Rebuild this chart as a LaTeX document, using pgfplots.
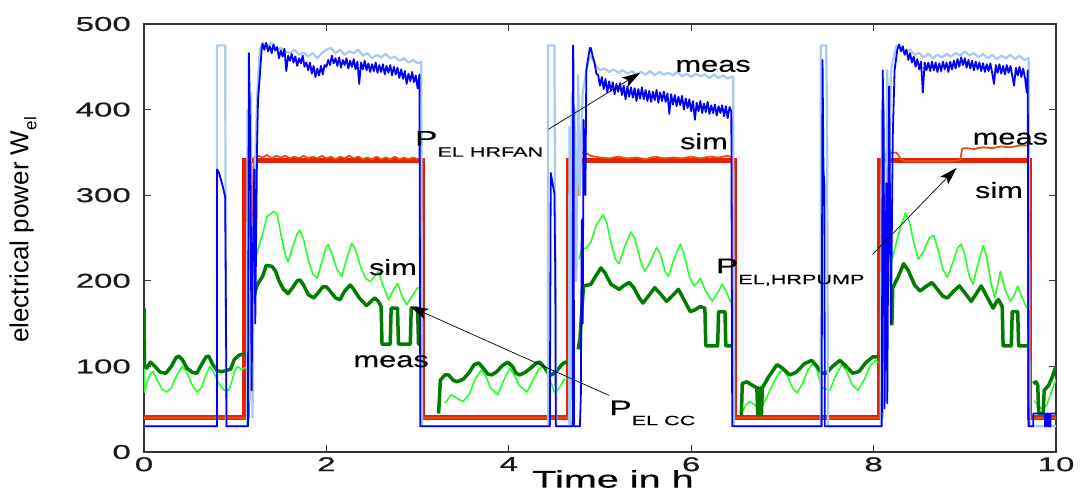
\documentclass[border=0pt]{standalone}
\usepackage{pgfplots}
\pgfplotsset{compat=1.18}
\usepackage{fontspec}
\usetikzlibrary{arrows.meta}
\setmainfont{Liberation Sans}
\newfontfamily\tickfont{Liberation Sans}[FakeStretch=1.65, FakeBold=0.6]
\newfontfamily\annfont{Liberation Sans}[FakeStretch=1.4, FakeBold=0.3]
\newfontfamily\pfont{Liberation Sans}[FakeStretch=1.6, FakeBold=0.3]
\newfontfamily\plainfont{Liberation Sans}
\definecolor{simred}{RGB}{228,32,0}
\definecolor{measor}{RGB}{232,80,10}
\definecolor{lblue}{RGB}{166,202,240}
\definecolor{dblue}{RGB}{0,0,255}
\definecolor{lgreen}{RGB}{40,255,40}
\definecolor{dgreen}{RGB}{0,125,0}
\begin{document}
\begin{tikzpicture}
\begin{axis}[
  scale only axis, width=912pt, height=428pt,
  at={(0pt,0pt)}, anchor=south west,
  xmin=0, xmax=10, ymin=0, ymax=500,
  xtick={0,2,4,6,8,10}, ytick={0,100,200,300,400,500},
  tick align=inside, major tick length=7pt,
  axis line style={line width=1.2pt, black!80},
  tick style={line width=1pt, black!80},
  /pgf/number format/assume math mode=true,
  ticklabel style={font=\tickfont\fontsize{20}{22}\selectfont, text=black!90},
  xticklabel style={inner sep=0pt, anchor=north, yshift=-5pt},
  yticklabel style={inner sep=0pt, anchor=east, xshift=-13pt},
  unbounded coords=jump,
  every axis plot/.append style={line join=round, mark=none},
]
% simulated pump power (thick red)
\addplot[simred, line width=5pt, line join=miter] table[row sep=\\] {
x y \\ 0 40 \\ 1.1 40 \\ 1.1 340 \\ 3.05 340 \\ 3.05 40 \\ 4.65 40 \\ 4.65 340 \\ 6.47 340 \\ 6.47 40 \\ 8.06 40 \\ 8.06 340 \\ 9.71 340 \\ 9.71 40 \\ 10 40 \\
};
% measured pump power (thin orange)
\addplot[measor, line width=1.8pt] table[row sep=\\] {
x y \\ 0 40 \\ 1.15 40 \\ 1.16 250 \\ 1.17 330 \\ 1.18 260 \\ 1.19 300 \\ 1.2 335 \\ 1.21 345 \\
1.25 346 \\ 1.3 344 \\ 1.35 347 \\ 1.4 343 \\ 1.45 346 \\ 1.5 344 \\ 1.55 346 \\ 1.6 343 \\ 1.65 345 \\ 1.7 343 \\ 1.75 346 \\ 1.8 343 \\ 1.85 345 \\ 1.9 343 \\ 1.95 346 \\ 2.0 343 \\ 2.05 345 \\ 2.1 342 \\ 2.15 345 \\ 2.2 343 \\ 2.25 346 \\ 2.3 343 \\ 2.35 345 \\ 2.4 342 \\ 2.45 344 \\ 2.5 342 \\ 2.55 345 \\ 2.6 342 \\ 2.65 344 \\ 2.7 342 \\ 2.75 345 \\ 2.8 342 \\ 2.85 344 \\ 2.9 342 \\ 2.95 344 \\ 3.0 342 \\ 3.04 343 \\ 3.05 40 \\
4.66 40 \\ 4.67 320 \\ 4.68 200 \\ 4.69 330 \\ 4.7 345 \\ 4.74 348 \\ 4.76 300 \\ 4.78 345 \\ 4.8 350 \\ 4.85 349 \\ 4.9 346 \\ 4.95 345 \\
5.0 344 \\ 5.1 343 \\ 5.2 345 \\ 5.3 343 \\ 5.4 344 \\ 5.5 342 \\ 5.6 345 \\ 5.7 343 \\ 5.8 344 \\ 5.9 343 \\ 6.0 345 \\ 6.1 343 \\ 6.2 345 \\ 6.3 344 \\ 6.4 346 \\ 6.45 344 \\ 6.46 40 \\
8.07 40 \\ 8.08 330 \\ 8.1 300 \\ 8.12 345 \\ 8.15 350 \\ 8.2 349 \\ 8.25 350 \\ 8.3 342 \\ 8.35 340 \\ 8.9 340 \\ 8.95 341 \\ 8.97 354 \\ 9.0 355 \\ 9.1 354 \\ 9.2 356 \\ 9.3 355 \\ 9.4 357 \\ 9.5 356 \\ 9.6 358 \\ 9.7 358 \\ 9.71 40 \\ 10 40 \\
};
% simulated CC power (light green)
\addplot[lgreen, line width=1.6pt] table[row sep=\\] {
x y \\ 0 110 \\ 0.005 70 \\ 0.03 80 \\ 0.07 92 \\ 0.1 94 \\ 0.14 85 \\ 0.2 73 \\ 0.25 70 \\ 0.3 75 \\ 0.36 90 \\ 0.42 100 \\ 0.46 95 \\ 0.52 80 \\ 0.58 70 \\ 0.63 75 \\ 0.68 90 \\ 0.72 100 \\ 0.76 94 \\ 0.82 80 \\ 0.88 72 \\ 0.93 72 \\ 0.97 85 \\ 1.0 96 \\ 1.03 100 \\ 1.07 96 \\ 1.1 98 \\ 1.17 100 \\
1.19 160 \\ 1.22 225 \\ 1.25 236 \\ 1.3 255 \\ 1.35 275 \\ 1.42 281 \\ 1.46 278 \\ 1.5 255 \\ 1.55 230 \\ 1.58 222 \\ 1.63 240 \\ 1.68 255 \\ 1.71 259 \\ 1.75 248 \\ 1.8 225 \\ 1.85 208 \\ 1.9 203 \\ 1.95 222 \\ 2.0 240 \\ 2.02 242 \\ 2.06 232 \\ 2.11 215 \\ 2.17 205 \\ 2.22 225 \\ 2.28 244 \\ 2.32 236 \\ 2.38 215 \\ 2.43 203 \\ 2.48 199 \\ 2.53 205 \\ 2.57 211 \\ 2.62 195 \\ 2.68 178 \\ 2.73 188 \\ 2.78 197 \\ 2.83 182 \\ 2.88 172 \\ 2.94 182 \\ 3.0 192 \\ 3.03 190 \\ 3.04 nan \\
3.3 57 \\ 3.37 67 \\ 3.44 62 \\ 3.5 59 \\ 3.57 68 \\ 3.63 85 \\ 3.7 96 \\ 3.75 88 \\ 3.8 75 \\ 3.88 67 \\ 3.95 85 \\ 4.01 98 \\ 4.06 90 \\ 4.12 77 \\ 4.2 70 \\ 4.27 85 \\ 4.33 97 \\ 4.38 100 \\ 4.43 90 \\ 4.5 70 \\ 4.55 74 \\ 4.6 84 \\ 4.64 86 \\ 4.65 nan \\
4.77 225 \\ 4.8 238 \\ 4.85 238 \\ 4.9 245 \\ 4.96 265 \\ 5.03 277 \\ 5.07 270 \\ 5.12 245 \\ 5.17 225 \\ 5.21 220 \\ 5.27 240 \\ 5.34 257 \\ 5.38 250 \\ 5.44 225 \\ 5.49 211 \\ 5.55 222 \\ 5.62 239 \\ 5.66 232 \\ 5.71 212 \\ 5.75 205 \\ 5.81 225 \\ 5.88 243 \\ 5.92 232 \\ 5.98 205 \\ 6.03 194 \\ 6.07 198 \\ 6.1 203 \\ 6.15 190 \\ 6.23 176 \\ 6.29 186 \\ 6.34 196 \\ 6.38 188 \\ 6.44 174 \\ 6.45 nan \\
6.55 45 \\ 6.6 55 \\ 6.64 59 \\ 6.7 55 \\ 6.75 51 \\ 6.8 58 \\ 6.9 80 \\ 6.96 92 \\ 7.01 96 \\ 7.06 88 \\ 7.11 75 \\ 7.16 69 \\ 7.22 80 \\ 7.28 96 \\ 7.34 104 \\ 7.38 96 \\ 7.43 75 \\ 7.52 72 \\ 7.58 88 \\ 7.65 102 \\ 7.7 95 \\ 7.77 78 \\ 7.83 72 \\ 7.9 85 \\ 7.96 100 \\ 8.02 107 \\ 8.05 104 \\ 8.06 nan \\
8.18 200 \\ 8.2 223 \\ 8.25 245 \\ 8.3 265 \\ 8.35 279 \\ 8.39 270 \\ 8.44 245 \\ 8.49 225 \\ 8.55 235 \\ 8.61 250 \\ 8.66 253 \\ 8.71 235 \\ 8.76 213 \\ 8.81 204 \\ 8.87 222 \\ 8.92 238 \\ 8.96 243 \\ 9.0 230 \\ 9.05 205 \\ 9.09 196 \\ 9.14 218 \\ 9.2 241 \\ 9.24 228 \\ 9.29 196 \\ 9.33 180 \\ 9.36 195 \\ 9.39 211 \\ 9.44 190 \\ 9.5 176 \\ 9.55 185 \\ 9.58 194 \\ 9.63 180 \\ 9.68 168 \\ 9.69 nan \\
9.76 60 \\ 9.8 55 \\ 9.85 50 \\ 9.9 55 \\ 9.95 70 \\ 10 85 \\
};
% measured CC power (dark green)
\addplot[dgreen, line width=3.5pt] table[row sep=\\] {
x y \\ 0 168 \\ 0.005 100 \\ 0.03 98 \\ 0.07 105 \\ 0.12 100 \\ 0.18 93 \\ 0.24 92 \\ 0.3 100 \\ 0.35 110 \\ 0.38 112 \\ 0.42 108 \\ 0.47 98 \\ 0.53 93 \\ 0.58 92 \\ 0.63 102 \\ 0.68 111 \\ 0.71 112 \\ 0.75 103 \\ 0.8 95 \\ 0.85 94 \\ 0.9 95 \\ 0.95 97 \\ 0.99 108 \\ 1.04 113 \\ 1.08 114 \\ 1.17 114 \\
1.18 150 \\ 1.19 205 \\ 1.21 182 \\ 1.23 192 \\ 1.25 197 \\ 1.3 205 \\ 1.34 218 \\ 1.4 217 \\ 1.44 212 \\ 1.48 200 \\ 1.53 190 \\ 1.58 185 \\ 1.63 192 \\ 1.68 200 \\ 1.71 201 \\ 1.75 195 \\ 1.8 184 \\ 1.86 180 \\ 1.91 186 \\ 1.96 193 \\ 2.0 193 \\ 2.04 188 \\ 2.1 180 \\ 2.15 178 \\ 2.2 188 \\ 2.26 195 \\ 2.3 190 \\ 2.36 180 \\ 2.44 171 \\ 2.49 176 \\ 2.53 180 \\ 2.57 176 \\ 2.6 170 \\ 2.61 126 \\ 2.7 126 \\ 2.71 168 \\ 2.78 168 \\ 2.79 126 \\ 2.92 126 \\ 2.93 168 \\ 3.0 168 \\ 3.01 126 \\ 3.05 126 \\ 3.06 nan \\
3.23 45 \\ 3.25 84 \\ 3.3 90 \\ 3.34 90 \\ 3.39 84 \\ 3.43 82 \\ 3.5 85 \\ 3.56 92 \\ 3.62 102 \\ 3.67 104 \\ 3.72 98 \\ 3.77 91 \\ 3.81 90 \\ 3.87 94 \\ 3.93 101 \\ 3.99 105 \\ 4.04 100 \\ 4.08 92 \\ 4.12 90 \\ 4.18 93 \\ 4.25 99 \\ 4.3 104 \\ 4.34 105 \\ 4.39 99 \\ 4.44 91 \\ 4.47 90 \\ 4.52 94 \\ 4.58 102 \\ 4.62 105 \\ 4.65 104 \\ 4.66 nan \\
4.76 120 \\ 4.78 132 \\ 4.8 165 \\ 4.82 194 \\ 4.9 196 \\ 4.95 205 \\ 5.01 215 \\ 5.05 210 \\ 5.12 196 \\ 5.21 190 \\ 5.27 195 \\ 5.32 198 \\ 5.37 192 \\ 5.43 180 \\ 5.47 174 \\ 5.53 182 \\ 5.6 192 \\ 5.66 185 \\ 5.73 176 \\ 5.79 182 \\ 5.86 190 \\ 5.92 178 \\ 5.99 164 \\ 6.04 166 \\ 6.1 170 \\ 6.15 168 \\ 6.16 124 \\ 6.29 124 \\ 6.3 164 \\ 6.37 164 \\ 6.38 124 \\ 6.44 124 \\ 6.45 nan \\
6.55 43 \\ 6.56 80 \\ 6.61 82 \\ 6.67 78 \\ 6.72 75 \\ 6.73 43 \\ 6.74 75 \\ 6.75 43 \\ 6.76 75 \\ 6.77 43 \\ 6.78 75 \\ 6.85 88 \\ 6.94 102 \\ 7.0 98 \\ 7.08 90 \\ 7.15 93 \\ 7.24 103 \\ 7.32 107 \\ 7.38 100 \\ 7.43 92 \\ 7.48 92 \\ 7.55 100 \\ 7.63 107 \\ 7.7 100 \\ 7.77 92 \\ 7.84 94 \\ 7.92 105 \\ 7.99 111 \\ 8.05 111 \\ 8.06 nan \\
8.2 148 \\ 8.21 192 \\ 8.27 205 \\ 8.33 220 \\ 8.38 212 \\ 8.45 195 \\ 8.51 188 \\ 8.57 193 \\ 8.64 198 \\ 8.7 190 \\ 8.76 182 \\ 8.81 180 \\ 8.87 187 \\ 8.94 194 \\ 9.0 186 \\ 9.07 176 \\ 9.12 184 \\ 9.18 194 \\ 9.24 182 \\ 9.31 168 \\ 9.35 176 \\ 9.37 178 \\ 9.41 170 \\ 9.42 124 \\ 9.51 124 \\ 9.52 164 \\ 9.58 164 \\ 9.59 124 \\ 9.68 124 \\ 9.69 nan \\
9.75 80 \\ 9.78 82 \\ 9.8 78 \\ 9.81 45 \\ 9.86 45 \\ 9.87 72 \\ 9.92 78 \\ 9.96 88 \\ 10 100 \\
};
% simulated fan power (light blue)
\addplot[lblue, line width=2.2pt] table[row sep=\\] {
x y \\ 0 30 \\ 0.8 30 \\ 0.8 475 \\ 0.89 475 \\ 0.9 30 \\ 1.13 30 \\ 1.135 400 \\ 1.14 30 \\ 1.15 400 \\ 1.16 60 \\ 1.17 420 \\ 1.19 40 \\ 1.21 300 \\ 1.24 415 \\ 1.27 470 \\ 1.3 478 \\
1.35 474 \\ 1.4 478 \\ 1.45 470 \\ 1.5 472 \\ 1.55 468 \\ 1.6 466 \\ 1.65 470 \\ 1.7 464 \\ 1.75 467 \\ 1.8 462 \\ 1.85 466 \\ 1.9 460 \\ 1.95 466 \\ 2.0 470 \\ 2.05 472 \\ 2.1 466 \\ 2.15 470 \\ 2.2 464 \\ 2.25 468 \\ 2.3 466 \\ 2.35 470 \\ 2.4 463 \\ 2.45 466 \\ 2.5 460 \\ 2.55 464 \\ 2.6 461 \\ 2.65 465 \\ 2.7 460 \\ 2.75 462 \\ 2.8 457 \\ 2.85 460 \\ 2.9 455 \\ 2.95 458 \\ 3.0 454 \\ 3.04 456 \\ 3.05 30 \\
4.43 30 \\ 4.43 475 \\ 4.5 475 \\ 4.52 30 \\ 4.66 30 \\ 4.665 380 \\ 4.67 30 \\ 4.69 420 \\ 4.7 60 \\ 4.72 400 \\ 4.74 200 \\ 4.76 440 \\ 4.78 300 \\ 4.81 420 \\ 4.85 445 \\ 4.88 460 \\ 4.9 462 \\ 4.95 452 \\ 5.0 446 \\
5.05 448 \\ 5.1 444 \\ 5.15 447 \\ 5.2 443 \\ 5.25 446 \\ 5.3 442 \\ 5.35 445 \\ 5.4 441 \\ 5.45 444 \\ 5.5 441 \\ 5.55 445 \\ 5.6 440 \\ 5.65 444 \\ 5.7 441 \\ 5.75 443 \\ 5.8 440 \\ 5.85 444 \\ 5.9 439 \\ 5.95 442 \\ 6.0 438 \\ 6.05 442 \\ 6.1 439 \\ 6.15 441 \\ 6.2 437 \\ 6.25 441 \\ 6.3 437 \\ 6.35 440 \\ 6.4 436 \\ 6.45 439 \\ 6.46 438 \\ 6.47 30 \\
7.42 30 \\ 7.42 475 \\ 7.48 475 \\ 7.49 390 \\ 7.5 30 \\ 8.08 30 \\ 8.09 400 \\ 8.1 40 \\ 8.11 407 \\ 8.13 60 \\ 8.15 446 \\ 8.17 300 \\ 8.19 446 \\ 8.22 460 \\ 8.25 475 \\
8.3 472 \\ 8.35 466 \\ 8.4 470 \\ 8.45 464 \\ 8.5 466 \\ 8.55 461 \\ 8.6 465 \\ 8.65 460 \\ 8.7 464 \\ 8.75 461 \\ 8.8 465 \\ 8.85 462 \\ 8.9 466 \\ 8.95 463 \\ 9.0 468 \\ 9.05 463 \\ 9.1 466 \\ 9.15 461 \\ 9.2 465 \\ 9.25 460 \\ 9.3 464 \\ 9.35 459 \\ 9.4 463 \\ 9.45 460 \\ 9.5 464 \\ 9.55 459 \\ 9.6 463 \\ 9.65 458 \\ 9.7 460 \\ 9.71 30 \\ 10 30 \\
};
% measured fan power (dark blue)
\addplot[dblue, line width=1.8pt] table[row sep=\\] {
x y \\ 0 30 \\ 0.8 30 \\ 0.8 330 \\ 0.82 327 \\ 0.86 312 \\ 0.89 298 \\ 0.9 139 \\ 0.905 30 \\ 1.14 30 \\ 1.15 466 \\ 1.16 400 \\ 1.17 300 \\ 1.18 72 \\ 1.19 200 \\ 1.21 330 \\ 1.22 150 \\ 1.24 357 \\ 1.25 411 \\ 1.27 440 \\ 1.29 470 \\
1.30 477 \\ 1.32 470 \\ 1.34 478 \\ 1.36 468 \\ 1.38 474 \\ 1.40 466 \\ 1.42 476 \\ 1.44 469 \\ 1.46 473 \\ 1.48 460 \\ 1.50 469 \\ 1.52 462 \\ 1.54 471 \\ 1.56 445 \\ 1.58 463 \\ 1.60 457 \\ 1.62 465 \\ 1.64 455 \\ 1.66 462 \\ 1.68 451 \\ 1.70 460 \\ 1.72 454 \\ 1.74 463 \\ 1.76 450 \\ 1.78 455 \\ 1.80 446 \\ 1.82 455 \\ 1.84 442 \\ 1.86 451 \\ 1.88 438 \\ 1.90 448 \\ 1.92 440 \\ 1.94 451 \\ 1.96 441 \\ 1.98 452 \\ 2.00 450 \\ 2.02 458 \\ 2.04 452 \\ 2.06 463 \\ 2.08 454 \\ 2.10 460 \\ 2.12 451 \\ 2.14 461 \\ 2.16 449 \\ 2.18 458 \\ 2.20 452 \\ 2.22 460 \\ 2.24 448 \\ 2.26 457 \\ 2.28 450 \\ 2.30 459 \\ 2.32 447 \\ 2.34 456 \\ 2.36 430 \\ 2.38 455 \\ 2.40 447 \\ 2.42 457 \\ 2.44 446 \\ 2.46 454 \\ 2.48 444 \\ 2.50 453 \\ 2.52 445 \\ 2.54 455 \\ 2.56 443 \\ 2.58 452 \\ 2.60 444 \\ 2.62 453 \\ 2.64 441 \\ 2.66 451 \\ 2.68 443 \\ 2.70 452 \\ 2.72 440 \\ 2.74 450 \\ 2.76 441 \\ 2.78 449 \\ 2.80 437 \\ 2.82 447 \\ 2.84 436 \\ 2.86 445 \\ 2.88 430 \\ 2.90 442 \\ 2.92 433 \\ 2.94 444 \\ 2.96 432 \\ 2.98 440 \\ 3.00 425 \\ 3.02 441 \\ 3.03 30 \\
4.45 30 \\ 4.46 326 \\ 4.5 302 \\ 4.51 205 \\ 4.515 30 \\ 4.70 30 \\ 4.705 475 \\ 4.71 446 \\ 4.715 30 \\ 4.78 30 \\ 4.79 67 \\ 4.80 271 \\ 4.81 150 \\ 4.82 388 \\ 4.84 300 \\ 4.85 446 \\ 4.87 460 \\ 4.89 472 \\
4.90 472 \\ 4.92 462 \\ 4.94 455 \\ 4.96 442 \\ 4.98 440 \\ 5.00 428 \\ 5.02 438 \\ 5.04 424 \\ 5.06 436 \\ 5.08 420 \\ 5.10 433 \\ 5.12 422 \\ 5.14 432 \\ 5.16 418 \\ 5.18 430 \\ 5.20 421 \\ 5.22 431 \\ 5.24 417 \\ 5.26 428 \\ 5.28 412 \\ 5.30 427 \\ 5.32 415 \\ 5.34 426 \\ 5.36 414 \\ 5.38 425 \\ 5.40 410 \\ 5.42 424 \\ 5.44 413 \\ 5.46 426 \\ 5.48 412 \\ 5.50 423 \\ 5.52 410 \\ 5.54 422 \\ 5.56 409 \\ 5.58 421 \\ 5.60 411 \\ 5.62 423 \\ 5.64 408 \\ 5.66 420 \\ 5.68 410 \\ 5.70 421 \\ 5.72 409 \\ 5.74 419 \\ 5.76 395 \\ 5.78 418 \\ 5.80 406 \\ 5.82 417 \\ 5.84 404 \\ 5.86 415 \\ 5.88 405 \\ 5.90 416 \\ 5.92 400 \\ 5.94 413 \\ 5.96 402 \\ 5.98 412 \\ 6.00 398 \\ 6.02 410 \\ 6.04 388 \\ 6.06 408 \\ 6.08 398 \\ 6.10 410 \\ 6.12 396 \\ 6.14 407 \\ 6.16 397 \\ 6.18 409 \\ 6.20 395 \\ 6.22 405 \\ 6.24 396 \\ 6.26 406 \\ 6.28 393 \\ 6.30 404 \\ 6.32 396 \\ 6.34 405 \\ 6.36 392 \\ 6.38 404 \\ 6.40 390 \\ 6.42 403 \\ 6.44 398 \\ 6.45 30 \\
7.43 30 \\ 7.44 458 \\ 7.45 330 \\ 7.46 313 \\ 7.465 30 \\ 8.09 30 \\ 8.10 446 \\ 8.11 376 \\ 8.12 51 \\ 8.14 314 \\ 8.15 57 \\ 8.17 427 \\ 8.19 150 \\ 8.21 368 \\ 8.23 446 \\ 8.26 470 \\ 8.28 476 \\
8.30 468 \\ 8.32 474 \\ 8.34 464 \\ 8.36 470 \\ 8.38 458 \\ 8.40 466 \\ 8.42 455 \\ 8.44 462 \\ 8.46 450 \\ 8.48 459 \\ 8.50 447 \\ 8.52 456 \\ 8.54 420 \\ 8.56 455 \\ 8.58 446 \\ 8.60 455 \\ 8.62 445 \\ 8.64 456 \\ 8.66 446 \\ 8.68 455 \\ 8.70 444 \\ 8.72 454 \\ 8.74 445 \\ 8.76 456 \\ 8.78 447 \\ 8.80 455 \\ 8.82 444 \\ 8.84 456 \\ 8.86 447 \\ 8.88 457 \\ 8.90 448 \\ 8.92 459 \\ 8.94 450 \\ 8.96 461 \\ 8.98 452 \\ 9.00 460 \\ 9.02 449 \\ 9.04 458 \\ 9.06 448 \\ 9.08 457 \\ 9.10 446 \\ 9.12 456 \\ 9.14 447 \\ 9.16 455 \\ 9.18 445 \\ 9.20 454 \\ 9.22 444 \\ 9.24 453 \\ 9.26 445 \\ 9.28 454 \\ 9.30 443 \\ 9.32 430 \\ 9.34 452 \\ 9.36 443 \\ 9.38 453 \\ 9.40 442 \\ 9.42 451 \\ 9.44 441 \\ 9.46 452 \\ 9.48 443 \\ 9.50 451 \\ 9.52 440 \\ 9.54 428 \\ 9.56 449 \\ 9.58 440 \\ 9.60 450 \\ 9.62 438 \\ 9.64 448 \\ 9.66 437 \\ 9.68 420 \\ 9.69 446 \\ 9.70 30 \\
9.75 30 \\ 9.75 45 \\ 9.88 45 \\ 9.88 30 \\ 9.9 30 \\ 9.9 45 \\ 9.92 45 \\ 9.92 30 \\ 9.94 30 \\ 9.94 45 \\ 10 45 \\
};
% annotations
\node[font=\annfont\fontsize{22}{24}\selectfont, inner sep=0pt] at (axis cs:6.24,451) {meas};
\node[font=\annfont\fontsize{22}{24}\selectfont, inner sep=0pt] at (axis cs:6.14,363) {sim};
\node[font=\annfont\fontsize{22}{24}\selectfont, inner sep=0pt] at (axis cs:9.50,366) {meas};
\node[font=\annfont\fontsize{22}{24}\selectfont, inner sep=0pt] at (axis cs:9.375,306) {sim};
\node[font=\annfont\fontsize{22}{24}\selectfont, inner sep=0pt] at (axis cs:2.73,216) {sim};
\node[font=\annfont\fontsize{22}{24}\selectfont, inner sep=0pt] at (axis cs:2.71,106) {meas};
\node[anchor=base west, inner sep=0pt] at (axis cs:2.97,358) {\pfont\fontsize{21}{24}\selectfont P\raisebox{-11pt}{\fontsize{13.5}{15}\selectfont EL HRFAN}};
\node[anchor=base west, inner sep=0pt] at (axis cs:6.27,209) {\pfont\fontsize{21}{24}\selectfont P\raisebox{-11pt}{\fontsize{13.5}{15}\selectfont EL,HRPUMP}};
\node[anchor=base west, inner sep=0pt] at (axis cs:5.10,43) {\pfont\fontsize{21}{24}\selectfont P\raisebox{-10pt}{\fontsize{13.5}{15}\selectfont EL CC}};
\draw[black, line width=0.7pt, -{Stealth[length=18pt, width=11pt, inset=4pt]}] (axis cs:4.435,377) -- (axis cs:5.44,443);
\draw[black, line width=0.7pt, -{Stealth[length=18pt, width=11pt, inset=4pt]}] (axis cs:7.99,231) -- (axis cs:8.91,332);
\draw[black, line width=0.7pt, -{Stealth[length=18pt, width=11pt, inset=4pt]}] (axis cs:5.10,66) -- (axis cs:2.917,170);
\end{axis}
\node[rotate=90, inner sep=0pt, font=\plainfont] at (-121pt,222pt) {\fontsize{26}{28}\selectfont electrical power W\raisebox{-8pt}{\fontsize{17}{18}\selectfont el}};
\node[inner sep=0pt, font=\tickfont\fontsize{24}{26}\selectfont] at (469pt,-27pt) {Time in h};
\pgfresetboundingbox
\path[use as bounding box] (-144pt,-40pt) rectangle (943pt,452pt);
\end{tikzpicture}
\end{document}
